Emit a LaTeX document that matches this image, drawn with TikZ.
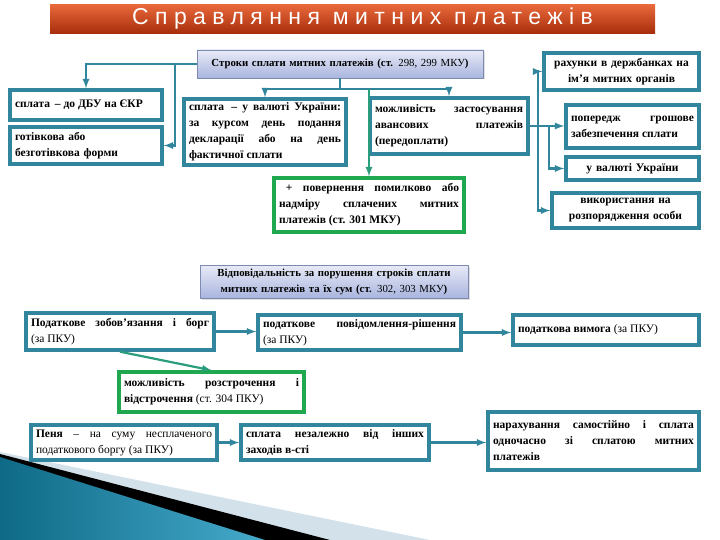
\documentclass[tikz,border=0pt]{standalone}
\usepackage{fontspec}
\setmainfont{Liberation Serif}
\newfontfamily\titlefont[LetterSpace=28]{Liberation Sans}
\usetikzlibrary{shadows}
\definecolor{tealb}{HTML}{31859C}
\definecolor{greenb}{HTML}{1FA850}
\definecolor{greenl}{HTML}{2A9D7C}
\definecolor{headtop}{HTML}{E8EAF7}
\definecolor{headbot}{HTML}{A9B5DE}
\definecolor{headline}{HTML}{7D8BB0}
\definecolor{titletop}{HTML}{E8683A}
\definecolor{titlemid}{HTML}{D4461A}
\definecolor{titlebot}{HTML}{A82E0C}
\definecolor{wedgelight}{HTML}{D3E2EA}
\definecolor{wedgeA}{HTML}{0E6A86}
\definecolor{wedgeB}{HTML}{46AACB}
\tikzset{
  box/.style={draw=tealb, line width=3.4pt, fill=white, inner xsep=5pt, inner ysep=3pt,
    font=\bfseries\fontsize{11.5}{16}\selectfont, align=justify,
    drop shadow={shadow xshift=1.5pt, shadow yshift=-1.5pt, opacity=0.3}},
  gbox/.style={box, draw=greenb},
  head/.style={draw=headline, line width=0.8pt, top color=headtop, bottom color=headbot,
    inner xsep=5pt, font=\bfseries\fontsize{10.8}{16}\selectfont, align=center,
    drop shadow={shadow xshift=1.5pt, shadow yshift=-1.5pt, opacity=0.25}},
  arr/.style={-latex, draw=tealb, line width=2.2pt},
  garr/.style={arr, draw=greenl},
  link/.style={draw=tealb, line width=2.2pt}
}
\hyphenpenalty=10000
\exhyphenpenalty=10000
\tolerance=9999
\begin{document}
\begin{tikzpicture}[x=1pt,y=-1pt]
  \useasboundingbox (0,0) rectangle (720,540);

  % title bar
  \node[top color=titletop, middle color=titlemid, bottom color=titlebot,
        minimum width=605pt, minimum height=28pt, text=white] (title) at (352.5,19)
        {\titlefont\fontsize{23}{23}\selectfont\hspace*{20pt}Справляння митних платежів};

  % corner wedge
  \fill[wedgelight] (0,452) -- (430,540) -- (0,540) -- cycle;
  \fill[black] (0,454) -- (330,540) -- (0,540) -- cycle;
  \shade[left color=wedgeA, right color=wedgeB] (0,457) -- (265,540) -- (0,540) -- cycle;

  % terms of payment
  \node[head, text width=276pt, minimum height=28pt] (terms) at (340,64)
        {Строки сплати митних платежів (ст. {\mdseries 298, 299 МКУ})};
  \node[box, text width=145pt, minimum height=37pt, align=center] (accounts) at (621.5,71.5)
        {рахунки в держбанках на\\ ім’я митних органів};
  \node[box, text width=142pt, minimum height=30pt] (budget) at (86,105)
        {сплата \,– до ДБУ на ЄКР};
  \node[box, text width=142pt, minimum height=37pt, align=left] (cash) at (86,145.5)
        {готівкова або\\ безготівкова форми};
  \node[box, text width=152pt, minimum height=66pt] (currency) at (265,132)
        {сплата \,– у валюті України:\linebreak за курсом день подання\linebreak
         декларації або на день\linebreak фактичної сплати};
  \node[box, text width=148pt, minimum height=56pt] (advance) at (449,126)
        {можливість застосування\linebreak авансових платежів\linebreak (передоплати)};
  \node[box, text width=123pt, minimum height=43pt] (deposit) at (632.5,126.5)
        {попередж грошове\linebreak забезпечення сплати};
  \node[box, text width=123pt, minimum height=23pt, align=center] (uah) at (632.5,168.5)
        {у валюті України};
  \node[box, text width=137pt, minimum height=35pt, align=center] (disposal) at (625.5,210.5)
        {використання на\\ розпорядження особи};
  \node[gbox, text width=180pt, minimum height=54pt] (refund) at (369,205)
        {\hspace*{0.6em}+ повернення помилково або\linebreak надміру сплачених митних\linebreak
         платежів (ст. 301 МКУ)};

  \draw[arr] (terms.west) -| (budget.north);
  \draw[arr] (terms.west) ++(-22,0) |- (cash.east);
  \draw[link] (terms.south) -- ++(0,11) coordinate (tj);
  \draw[arr] (tj) -| (currency.north);
  \draw[arr] (tj) -| (advance.north);
  \draw[garr] (tj -| refund.north) -- (refund.north);
  \draw[link] (advance.east) -- ++(8,0) coordinate (aj);
  \draw[arr] (aj) |- (accounts.west);
  \draw[arr] (aj) |- (disposal.west);
  \draw[arr] (advance.east) -- (advance.east -| deposit.west);
  \draw[arr] (aj) ++(11,0) |- (uah.west);

  % liability
  \node[head, text width=258pt, minimum height=33pt] (liab) at (334,281.5)
        {Відповідальність за порушення строків сплати\\ митних платежів та їх сум (ст. {\mdseries 302, 303 МКУ})};
  \node[box, text width=178pt, minimum height=37pt] (taxdebt) at (120,331.5)
        {Податкове зобов’язання і борг\linebreak {\mdseries (за ПКУ)}};
  \node[box, text width=193pt, minimum height=35pt] (notice) at (359.5,332.5)
        {податкове повідомлення-рішення\linebreak {\mdseries (за ПКУ)}};
  \node[box, text width=176pt, minimum height=30pt] (claim) at (606,330)
        {податкова вимога {\mdseries (за ПКУ)}};
  \node[gbox, text width=175pt, minimum height=40pt] (instal) at (211.5,392)
        {можливість розстрочення і\linebreak відстрочення {\mdseries (ст. 304 ПКУ)}};
  \node[box, text width=176pt, minimum height=35pt] (penalty) at (124,442.5)
        {Пеня {\mdseries – на суму несплаченого\linebreak податкового боргу (за ПКУ)}};
  \node[box, text width=178pt, minimum height=35pt] (indep) at (335,442.5)
        {сплата незалежно від інших\linebreak заходів в-сті};
  \node[box, text width=201pt, minimum height=58pt] (selfcalc) at (593.5,441)
        {нарахування самостійно і сплата\linebreak одночасно зі сплатою митних\linebreak платежів};

  \draw[arr] (taxdebt.east) -- (taxdebt.east -| notice.west);
  \draw[arr] (notice.east) -- (notice.east -| claim.west);
  \draw[garr] (taxdebt.south) -- (instal.north);
  \draw[arr] (penalty.east) -- (penalty.east -| indep.west);
  \draw[arr] (indep.east) -- (indep.east -| selfcalc.west);
\end{tikzpicture}
\end{document}
